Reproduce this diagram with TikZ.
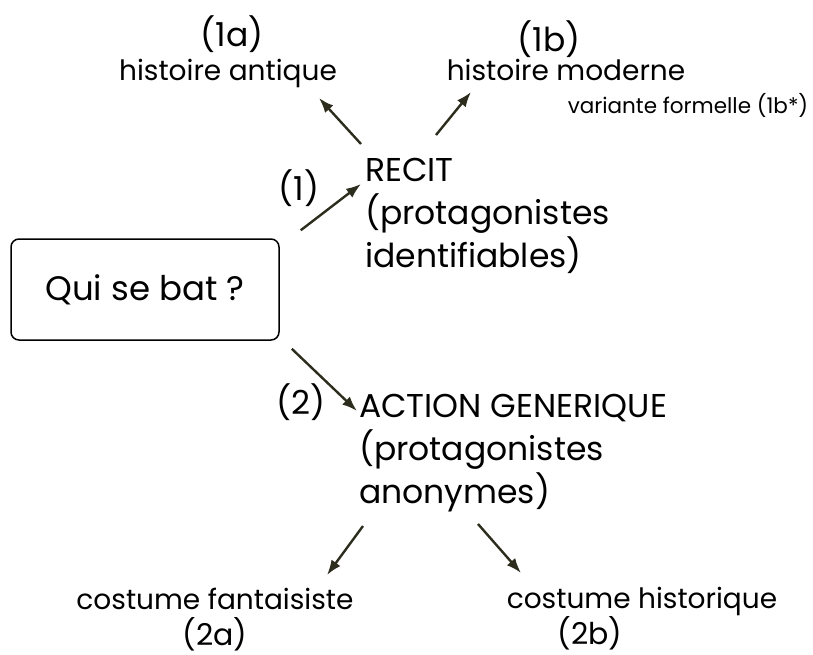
\documentclass[tikz,border=0pt]{standalone}
\usepackage{fontspec}
\setmainfont{Poppins}
\usetikzlibrary{arrows.meta}
\definecolor{arrowcol}{RGB}{45,45,30}
\tikzset{
  fleche/.style={-{Latex[length=15pt,width=11pt]},line width=2.4pt,color=arrowcol},
  grand/.style={font=\fontsize{33}{43}\selectfont,inner sep=0pt,align=left},
  moyen/.style={font=\fontsize{28}{34}\selectfont,inner sep=0pt},
  petit/.style={font=\fontsize{21.5}{26}\selectfont,inner sep=0pt}
}
\begin{document}
\begin{tikzpicture}[x=1pt,y=-1pt]
\useasboundingbox (0,0) rectangle (813,654);
\draw (145,289.5) node [draw,rounded corners=8pt,line width=1.5pt,minimum width=268pt,minimum height=101pt,font=\fontsize{34}{40}\selectfont] (qui) {Qui se bat ?};
\draw (365,158) node [grand,anchor=north west] (recit) {RECIT\\(protagonistes\\identifiables)};
\draw (359,394) node [grand,anchor=north west] (action) {ACTION GENERIQUE\\(protagonistes\\anonymes)};
\draw (299,200) node [grand,anchor=base] (un) {(1)};
\draw (301,414) node [grand,anchor=base] (deux) {(2)};
\draw (232,46) node [grand,anchor=base] (una) {(1a)};
\draw (228,80) node [moyen,anchor=base] (antique) {histoire antique};
\draw (549,51) node [grand,anchor=base] (unb) {(1b)};
\draw (566,80) node [moyen,anchor=base] (moderne) {histoire moderne};
\draw (688,113) node [petit,anchor=base] (variante) {variante formelle (1b*)};
\draw (215,609) node [moyen,anchor=base] (fantaisie) {costume fantaisiste};
\draw (215,645) node [grand,anchor=base,font=\fontsize{30}{36}\selectfont] (deuxa) {(2a)};
\draw (642,608) node [moyen,anchor=base] (historique) {costume historique};
\draw (590,644) node [grand,anchor=base,font=\fontsize{30}{36}\selectfont] (deuxb) {(2b)};
\path[fleche]
	([xshift=21pt,yshift=8pt]qui.north east) edge ([xshift=-4pt,yshift=-26pt]recit.north west)
	([xshift=12pt,yshift=-8pt]qui.south east) edge ([xshift=-2pt,yshift=-17pt]action.north west)
	([xshift=-4pt,yshift=14pt]recit.north west) edge ([xshift=91pt,yshift=-18pt]antique.base)
	([xshift=71pt,yshift=23pt]recit.north west) edge ([xshift=-95pt,yshift=-12pt]moderne.base)
	([xshift=4pt,yshift=-132pt]action.north west) edge ([xshift=112pt,yshift=34pt]fantaisie.base)
	([xshift=119pt,yshift=-130pt]action.north west) edge ([xshift=-121pt,yshift=35pt]historique.base);
\end{tikzpicture}
\end{document}
